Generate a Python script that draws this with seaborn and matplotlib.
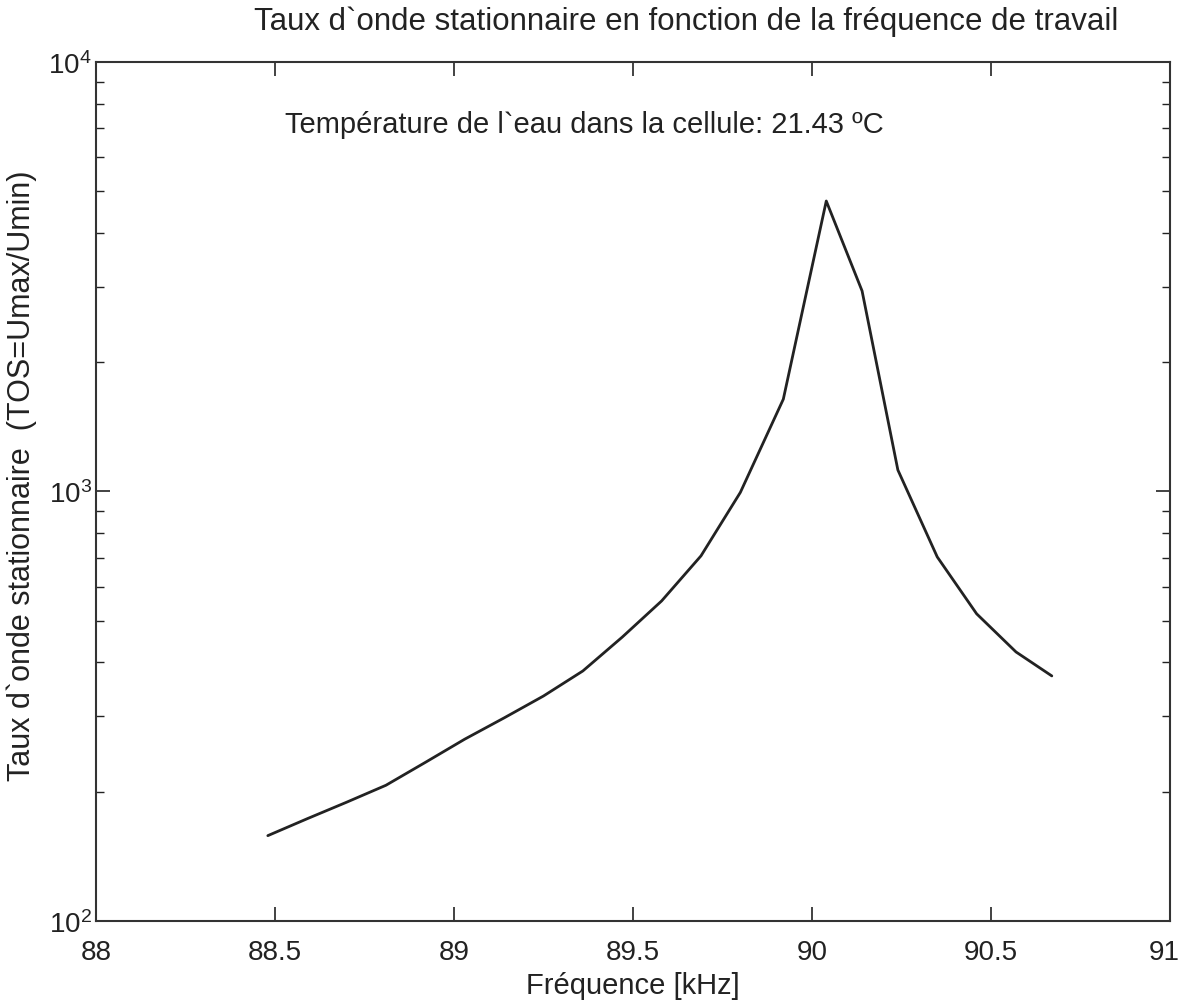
import numpy as np
import pandas as pd
import matplotlib
matplotlib.use("Agg")
import matplotlib.pyplot as plt
import matplotlib.ticker as mticker
import matplotlib.transforms as mtransforms
import seaborn as sns

# Data
freq_khz = [88.48, 88.59, 88.70, 88.81, 88.92, 89.03, 89.14, 89.25, 89.36, 89.47,
            89.58, 89.69, 89.80, 89.92, 90.04, 90.14, 90.24, 90.35, 90.46, 90.57, 90.67]
tos = [158, 173, 189, 207, 234, 265, 297, 334, 382, 458,
       556, 708, 995, 1640, 4745, 2930, 1122, 704, 519, 423, 372]

x_ticks = [88, 88.5, 89, 89.5, 90, 90.5, 91]
x_tick_labels = ["88", "88.5", "89", "89.5", "90", "90.5", "91"]
y_ticks = [1e2, 1e3, 1e4]

title_text = "Taux d`onde stationnaire en fonction de la fréquence de travail"
annot_text = "Température de l`eau dans la cellule: 21.43 ºC"
xlabel_text = "Fréquence [kHz]"
ylabel_text = "Taux d`onde stationnaire  (TOS=Umax/Umin)"

df = pd.DataFrame({"freq": freq_khz, "tos": tos})

sns.set_style("ticks")
plt.rcParams["font.family"] = ["Liberation Sans", "DejaVu Sans"]
plt.rcParams["mathtext.fontset"] = "custom"
plt.rcParams["mathtext.rm"] = "Liberation Sans"
plt.rcParams["mathtext.default"] = "regular"

ink = "#222222"

fig = plt.figure(figsize=(11.82, 10.04), dpi=100)
ax = fig.add_axes([0.0812, 0.0817, 0.9086, 0.8556])

sns.lineplot(data=df, x="freq", y="tos", ax=ax, color=ink, linewidth=2.0)

ax.set_yscale("log")
ax.set_xlim(88, 91)
ax.set_ylim(1e2, 1e4)

ax.set_xticks(x_ticks)
ax.set_xticklabels(x_tick_labels)
ax.set_yticks(y_ticks)
ax.yaxis.set_major_formatter(mticker.FuncFormatter(
    lambda v, p: r"$\mathregular{10^{%d}}$" % int(round(np.log10(v)))))
ax.yaxis.set_minor_locator(mticker.LogLocator(base=10, subs=np.arange(2, 10)))
ax.yaxis.set_minor_formatter(mticker.NullFormatter())

ax.tick_params(axis="x", which="major", direction="in", length=10, width=1.2,
               top=True, bottom=True, labelsize=20, colors=ink, pad=13)
ax.tick_params(axis="y", which="major", direction="in", length=10, width=1.2,
               left=True, right=True, labelsize=20, colors=ink, pad=3)
ax.tick_params(axis="y", which="minor", direction="in", length=6, width=1.0,
               left=True, right=True, colors=ink)
for s in ax.spines.values():
    s.set_visible(True)
    s.set_color("#333333")
    s.set_linewidth(1.5)

# nudge the last x tick label so it stays inside the picture
last = ax.get_xticklabels()[-1]
last.set_transform(last.get_transform() +
                   mtransforms.ScaledTranslation(-6 / 100, 0, fig.dpi_scale_trans))

ax.set_title(title_text, fontsize=22.5, color=ink, pad=24, x=0.55)
ax.set_xlabel(xlabel_text, fontsize=21, color=ink, labelpad=4)
ax.set_ylabel(ylabel_text, fontsize=22, color=ink)
ax.yaxis.set_label_coords(-0.055, 0.52)

ax.text(88.528, 7180, annot_text, fontsize=21, color=ink,
        ha="left", va="center")

fig.savefig("out.png", dpi=100)
